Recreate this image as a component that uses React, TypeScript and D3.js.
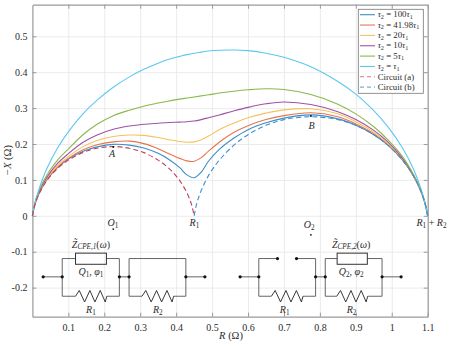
import { useEffect, useRef } from "react";
import * as d3 from "d3";

const WIDTH = 451;
const HEIGHT = 346;
const FONT = "'Liberation Serif', serif";
const INK = "#2b2b2b";
const AXIS = "#9a9a9a";

const xTicks = [0.1, 0.2, 0.3, 0.4, 0.5, 0.6, 0.7, 0.8, 0.9, 1, 1.1];
const yTicks = [-0.2, -0.1, 0, 0.1, 0.2, 0.3, 0.4, 0.5];

const resistance = [0, 0.005, 0.01, 0.02, 0.04, 0.07, 0.1, 0.14, 0.18, 0.225, 0.27, 0.31, 0.35, 0.38, 0.41, 0.43, 0.45, 0.47, 0.49, 0.52, 0.56, 0.6, 0.65, 0.7, 0.775, 0.85, 0.9, 0.95, 0.99, 1.03, 1.06, 1.08, 1.09, 1.095, 1.1];

const tau100 = [0, 0.024, 0.041, 0.065, 0.1, 0.134, 0.158, 0.179, 0.192, 0.199, 0.197, 0.189, 0.174, 0.157, 0.134, 0.114, 0.106, 0.122, 0.152, 0.185, 0.216, 0.24, 0.259, 0.272, 0.281, 0.27, 0.252, 0.226, 0.196, 0.155, 0.112, 0.071, 0.043, 0.025, 0];
const tau42 = [0, 0.025, 0.042, 0.066, 0.101, 0.136, 0.16, 0.183, 0.198, 0.206, 0.208, 0.201, 0.187, 0.173, 0.16, 0.153, 0.152, 0.162, 0.18, 0.205, 0.232, 0.251, 0.268, 0.279, 0.287, 0.276, 0.256, 0.229, 0.198, 0.156, 0.112, 0.071, 0.043, 0.025, 0];
const tau20 = [0, 0.025, 0.043, 0.068, 0.104, 0.14, 0.165, 0.192, 0.21, 0.221, 0.225, 0.224, 0.218, 0.212, 0.207, 0.205, 0.206, 0.212, 0.222, 0.24, 0.258, 0.273, 0.286, 0.295, 0.298, 0.284, 0.262, 0.233, 0.201, 0.158, 0.113, 0.072, 0.044, 0.025, 0];
const tau10 = [0, 0.026, 0.044, 0.07, 0.107, 0.146, 0.173, 0.204, 0.225, 0.241, 0.25, 0.255, 0.258, 0.26, 0.261, 0.262, 0.264, 0.268, 0.273, 0.281, 0.292, 0.302, 0.312, 0.317, 0.31, 0.29, 0.268, 0.238, 0.205, 0.16, 0.114, 0.073, 0.044, 0.025, 0];
const tau5 = [0, 0.027, 0.047, 0.074, 0.113, 0.155, 0.186, 0.225, 0.255, 0.279, 0.294, 0.305, 0.314, 0.32, 0.325, 0.328, 0.331, 0.334, 0.337, 0.342, 0.347, 0.351, 0.354, 0.352, 0.338, 0.311, 0.284, 0.248, 0.211, 0.165, 0.116, 0.074, 0.045, 0.025, 0];
const tau1 = [0, 0.025, 0.0455, 0.079, 0.131, 0.189, 0.234, 0.283, 0.322, 0.358, 0.387, 0.408, 0.425, 0.436, 0.444, 0.449, 0.453, 0.456, 0.459, 0.461, 0.462, 0.46, 0.453, 0.4415, 0.415, 0.374, 0.339, 0.293, 0.247, 0.189, 0.131, 0.079, 0.0455, 0.025, 0];

const circuitAR = [0, 0.005, 0.01, 0.02, 0.04, 0.07, 0.1, 0.14, 0.18, 0.225, 0.27, 0.31, 0.35, 0.38, 0.41, 0.43, 0.44, 0.445, 0.45];
const circuitAX = [0, 0.0237, 0.04, 0.064, 0.098, 0.132, 0.155, 0.176, 0.188, 0.193, 0.188, 0.176, 0.155, 0.132, 0.098, 0.064, 0.04, 0.0237, 0];
const circuitBR = [0.45, 0.455, 0.46, 0.47, 0.49, 0.52, 0.56, 0.6, 0.65, 0.7, 0.775, 0.85, 0.9, 0.95, 0.99, 1.03, 1.06, 1.08, 1.09, 1.095, 1.1];
const circuitBX = [0, 0.0247, 0.043, 0.071, 0.112, 0.155, 0.196, 0.226, 0.252, 0.268, 0.276, 0.268, 0.252, 0.226, 0.196, 0.155, 0.112, 0.071, 0.043, 0.0247, 0];

const solidSeries = [
  { tau: "100", values: tau100, color: "#3c8fc6" },
  { tau: "41.98", values: tau42, color: "#e8744a" },
  { tau: "20", values: tau20, color: "#f6c25c" },
  { tau: "10", values: tau10, color: "#9f52a8" },
  { tau: "5", values: tau5, color: "#8ab84c" },
  { tau: "", values: tau1, color: "#5cc8ef" },
];
const RED = "#c23f60";
const BLUE = "#3f90d2";

const x = d3.scaleLinear().domain([0, 1.1]).range([32.4, 427.7]);
const y = d3.scaleLinear().domain([-0.281, 0.588]).range([316.7, 4.7]);

const curve = d3.line<[number, number]>().x((d) => x(d[0])).y((d) => y(d[1])).curve(d3.curveCatmullRom.alpha(0.5));
const path = (rs: number[], xs: number[]) => curve(rs.map((r, i) => [r, xs[i]] as [number, number])) as string;

// Inset circuits, in the chart's own units
const midY = -0.17;
const topY = -0.119;
const botY = -0.224;
const zigzagSteps = [0, 0.12, 0.29, 0.46, 0.62, 0.79, 0.95, 1];
const zigzagSign = [0, 1, -1, 1, -1, 1, -1, 0];

const Wire = ({ pts, w = 0.9 }: { pts: [number, number][]; w?: number }) => (
  <path d={d3.line<[number, number]>().x((d) => x(d[0])).y((d) => y(d[1]))(pts) as string} fill="none" stroke="#555" strokeWidth={w} />
);

const Dot = ({ r, v }: { r: number; v: number }) => <circle cx={x(r)} cy={y(v)} r={1.6} fill="#111" />;

const Resistor = ({ x0, x1 }: { x0: number; x1: number }) => (
  <path
    d={d3.line<number>().x((s) => x(x0 + s * (x1 - x0))).y((_, i) => y(botY + zigzagSign[i] * 0.016))(zigzagSteps) as string}
    fill="none"
    stroke="#222"
    strokeWidth={0.9}
  />
);

const Label = ({ r, v, name, sub, size = 10 }: { r: number; v: number; name: string; sub?: string; size?: number }) => (
  <text x={x(r)} y={y(v)} textAnchor="middle" fontFamily={FONT} fontSize={size} fill={INK} fontStyle="italic">
    {name}
    {sub && <tspan dy={2} fontSize={size * 0.72} fontStyle="normal">{sub}</tspan>}
  </text>
);

const ZLabel = ({ r, v, n }: { r: number; v: number; n: string }) => (
  <text x={x(r)} y={y(v)} textAnchor="middle" fontFamily={FONT} fontSize={10} fill={INK} fontStyle="italic">
    {"Z\u0303"}
    <tspan dy={1.5} fontSize={7.2}>{`CPE,${n}`}</tspan>
    <tspan dy={-1.5} fontStyle="normal">(</tspan>ω<tspan fontStyle="normal">)</tspan>
  </text>
);

const PhaseLabel = ({ r, v, n }: { r: number; v: number; n: string }) => (
  <text x={x(r)} y={y(v)} textAnchor="middle" fontFamily={FONT} fontSize={10} fill={INK} fontStyle="italic">
    Q<tspan dy={2} fontSize={7.2} fontStyle="normal">{n}</tspan>
    <tspan dy={-2} fontStyle="normal">, </tspan>φ<tspan dy={2} fontSize={7.2} fontStyle="normal">{n}</tspan>
  </text>
);

// a block whose top branch is an impedance box
const CpeBlock = ({ x0, x1, bx0, bx1 }: { x0: number; x1: number; bx0: number; bx1: number }) => (
  <g>
    <Wire pts={[[x0, topY], [bx0, topY]]} />
    <Wire pts={[[bx1, topY], [x1, topY]]} />
    <rect x={x(bx0)} y={y(-0.104)} width={x(bx1) - x(bx0)} height={y(-0.135) - y(-0.104)} fill="none" stroke="#333" strokeWidth={1} />
  </g>
);

const Frame = ({ x0, x1, rx0, rx1 }: { x0: number; x1: number; rx0: number; rx1: number }) => (
  <g>
    <Wire pts={[[x0, topY], [x0, botY], [rx0, botY]]} />
    <Wire pts={[[rx1, botY], [x1, botY], [x1, topY]]} />
    <Resistor x0={rx0} x1={rx1} />
  </g>
);

export default function App() {
  const axes = useRef<SVGGElement>(null);

  useEffect(() => {
    const g = d3.select(axes.current);
    g.selectAll("*").remove();
    const fmt = (d: d3.NumberValue) => String(d);

    g.append("g")
      .attr("transform", `translate(0,${y.range()[1]})`)
      .call(d3.axisBottom(x).tickValues(xTicks).tickSize(y.range()[0] - y.range()[1]).tickFormat(() => ""))
      .call((s) => s.select(".domain").remove())
      .call((s) => s.selectAll("line").attr("stroke", "#e6e6e6").attr("stroke-width", 0.8));
    g.append("g")
      .attr("transform", `translate(${x.range()[0]},0)`)
      .call(d3.axisRight(y).tickValues(yTicks).tickSize(x.range()[1] - x.range()[0]).tickFormat(() => ""))
      .call((s) => s.select(".domain").remove())
      .call((s) => s.selectAll("line").attr("stroke", "#e6e6e6").attr("stroke-width", 0.8));

    const bottom = d3.axisBottom(x).tickValues(xTicks).tickSizeInner(-4).tickSizeOuter(0).tickPadding(7).tickFormat(fmt);
    const left = d3.axisLeft(y).tickValues(yTicks).tickSizeInner(-4).tickSizeOuter(0).tickPadding(5).tickFormat(fmt);
    const top = d3.axisTop(x).tickValues(xTicks).tickSizeInner(-4).tickSizeOuter(0).tickFormat(() => "");
    const right = d3.axisRight(y).tickValues(yTicks).tickSizeInner(-4).tickSizeOuter(0).tickFormat(() => "");

    [
      { axis: bottom, at: `translate(0,${y.range()[0]})` },
      { axis: left, at: `translate(${x.range()[0]},0)` },
      { axis: top, at: `translate(0,${y.range()[1]})` },
      { axis: right, at: `translate(${x.range()[1]},0)` },
    ].forEach(({ axis, at }) => {
      const a = g.append("g").attr("transform", at).call(axis as any);
      a.selectAll("path, line").attr("stroke", AXIS);
      a.select(".domain").attr("stroke-width", 1.2);
      a.selectAll("text").attr("font-family", FONT).attr("font-size", 10).attr("fill", INK);
    });
  }, []);

  const rows = [0, 1, 2, 3, 4, 5, 6, 7].map((i) => 14.7 + i * 10.35);

  return (
    <svg width={WIDTH} height={HEIGHT} style={{ position: "absolute", left: 0, top: 0, display: "block", background: "#fff" }}>
      <g ref={axes} />

      {solidSeries.map((s) => (
        <path key={s.color} d={path(resistance, s.values)} fill="none" stroke={s.color} strokeWidth={1.1} />
      ))}
      <path d={path(circuitAR, circuitAX)} fill="none" stroke={RED} strokeWidth={1.1} strokeDasharray="5 3" />
      <path d={path(circuitBR, circuitBX)} fill="none" stroke={BLUE} strokeWidth={1.1} strokeDasharray="5 3" />

      {/* point annotations */}
      <circle cx={x(0.225)} cy={y(0.192)} r={1} fill="#111" />
      <circle cx={x(0.775)} cy={y(0.278)} r={1} fill="#111" />
      <circle cx={x(0.225)} cy={y(-0.037)} r={0.9} fill="#111" />
      <circle cx={x(0.775)} cy={y(-0.053)} r={0.9} fill="#111" />
      <Label r={0.222} v={0.163} name="A" />
      <Label r={0.777} v={0.241} name="B" />
      <Label r={0.224} v={-0.028} name="O" sub="1" />
      <Label r={0.77} v={-0.033} name="O" sub="2" />
      <Label r={0.451} v={-0.028} name="R" sub="1" />
      <text x={431.5} y={y(-0.028)} textAnchor="middle" fontFamily={FONT} fontSize={10} fill={INK} fontStyle="italic">
        R<tspan dy={2} fontSize={7.2} fontStyle="normal">1</tspan>
        <tspan dy={-2} fontStyle="normal"> + </tspan>R<tspan dy={2} fontSize={7.2} fontStyle="normal">2</tspan>
      </text>

      {/* left circuit */}
      <Wire pts={[[0.03, midY], [0.083, midY]]} />
      <Wire pts={[[0.242, midY], [0.269, midY]]} />
      <Wire pts={[[0.427, midY], [0.48, midY]]} />
      <Frame x0={0.083} x1={0.242} rx0={0.12} rx1={0.207} />
      <CpeBlock x0={0.083} x1={0.242} bx0={0.12} bx1={0.206} />
      <Frame x0={0.269} x1={0.427} rx0={0.305} rx1={0.393} />
      <Wire pts={[[0.269, topY], [0.427, topY]]} />
      {[0.03, 0.083, 0.242, 0.269, 0.427, 0.48].map((r) => <Dot key={r} r={r} v={midY} />)}
      <ZLabel r={0.163} v={-0.089} n="1" />
      <PhaseLabel r={0.163} v={-0.165} n="1" />
      <Label r={0.163} v={-0.27} name="R" sub="1" />
      <Label r={0.349} v={-0.27} name="R" sub="2" />

      {/* right circuit */}
      <Wire pts={[[0.578, midY], [0.63, midY]]} />
      <Wire pts={[[0.788, midY], [0.815, midY]]} />
      <Wire pts={[[0.973, midY], [1.026, midY]]} />
      <Frame x0={0.63} x1={0.788} rx0={0.665} rx1={0.753} />
      <Wire pts={[[0.63, topY], [0.682, topY]]} />
      <Wire pts={[[0.735, topY], [0.788, topY]]} />
      <Frame x0={0.815} x1={0.973} rx0={0.847} rx1={0.933} />
      <CpeBlock x0={0.815} x1={0.973} bx0={0.848} bx1={0.932} />
      {[0.578, 0.63, 0.788, 0.815, 0.973, 1.026].map((r) => <Dot key={r} r={r} v={midY} />)}
      <Dot r={0.682} v={topY} />
      <Dot r={0.735} v={topY} />
      <ZLabel r={0.887} v={-0.089} n="2" />
      <PhaseLabel r={0.887} v={-0.165} n="2" />
      <Label r={0.702} v={-0.27} name="R" sub="1" />
      <Label r={0.888} v={-0.27} name="R" sub="2" />

      {/* axis titles */}
      <text x={231} y={339} textAnchor="middle" fontFamily={FONT} fontSize={10.5} fill={INK}>
        <tspan fontStyle="italic">R</tspan> (Ω)
      </text>
      <text transform="translate(11,160) rotate(-90)" textAnchor="middle" fontFamily={FONT} fontSize={10.5} fill={INK}>
        −<tspan fontStyle="italic">X</tspan> (Ω)
      </text>

      {/* legend */}
      <rect x={358.3} y={9.3} width={65} height={84} fill="#fff" stroke="#777" strokeWidth={0.8} />
      {solidSeries.map((s, i) => (
        <g key={s.color}>
          <line x1={360} x2={375} y1={rows[i]} y2={rows[i]} stroke={s.color} strokeWidth={1.1} />
          <text x={377.7} y={rows[i] + 2.7} fontFamily={FONT} fontSize={8.8} fill={INK}>
            <tspan fontStyle="italic">τ</tspan>
            <tspan dy={1.6} fontSize={6.2}>2</tspan>
            <tspan dy={-1.6}> = {s.tau}</tspan>
            <tspan fontStyle="italic">τ</tspan>
            <tspan dy={1.6} fontSize={6.2}>1</tspan>
          </text>
        </g>
      ))}
      {["Circuit (a)", "Circuit (b)"].map((t, i) => (
        <g key={t}>
          <line x1={360} x2={375} y1={rows[6 + i]} y2={rows[6 + i]} stroke={i ? BLUE : RED} strokeWidth={1.1} strokeDasharray="4 3" opacity={0.7} />
          <text x={377.7} y={rows[6 + i] + 2.7} fontFamily={FONT} fontSize={8.8} fill={INK}>{t}</text>
        </g>
      ))}
    </svg>
  );
}
